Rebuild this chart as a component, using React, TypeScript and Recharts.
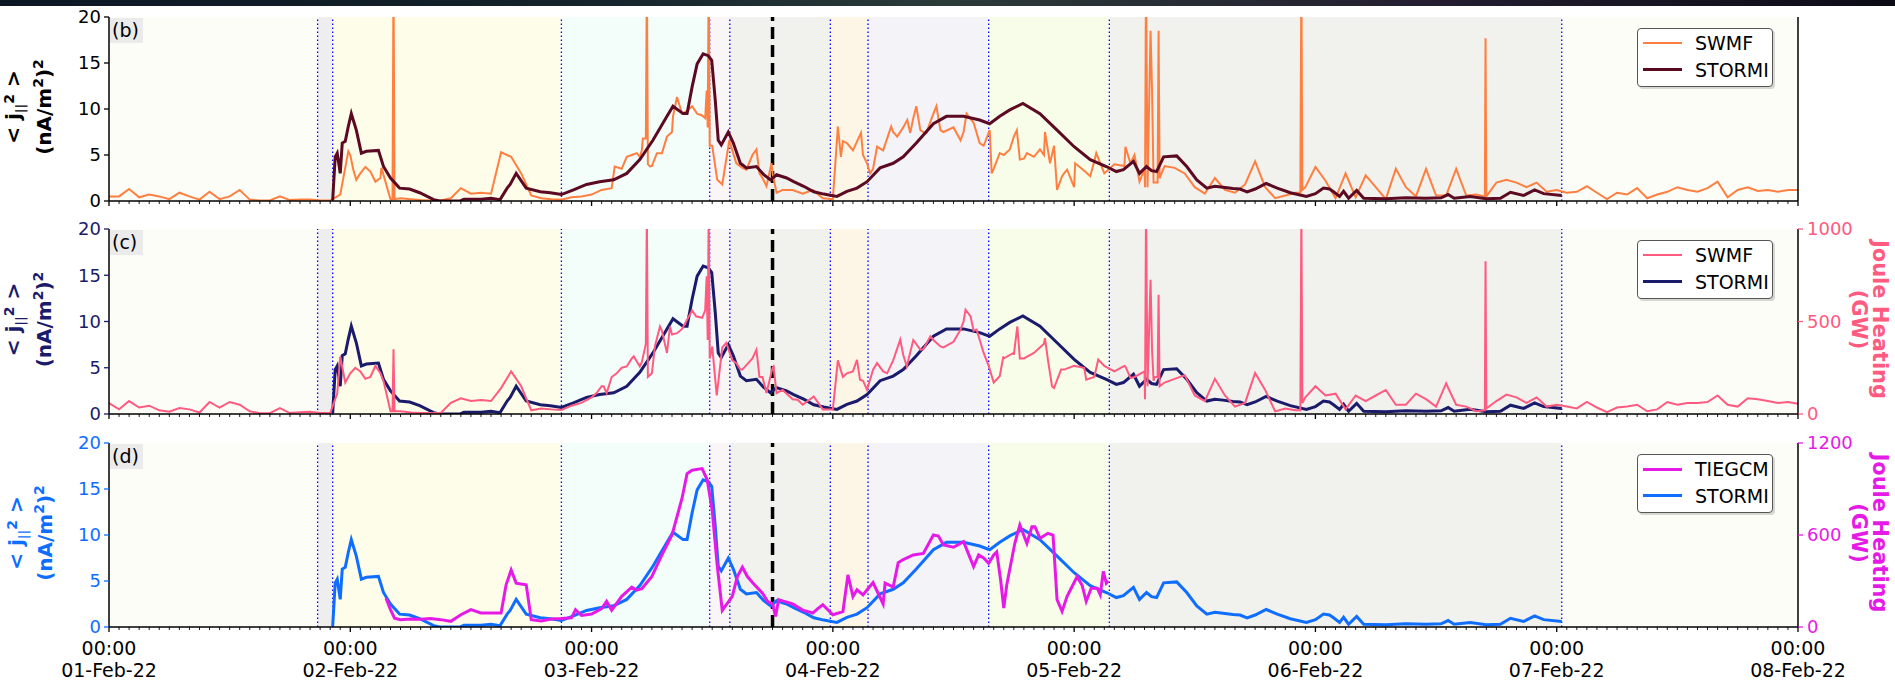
import React from 'react';
import { LineChart, Line, XAxis, YAxis, ReferenceArea, ReferenceLine } from 'recharts';

const W = 1895;
const FONT = '"DejaVu Sans", sans-serif';

// x axis: hours since 01-Feb-22 00:00
const hourTicks = Array.from({ length: 169 }, (_, i) => i);
const dayLabels = ['01-Feb-22', '02-Feb-22', '03-Feb-22', '04-Feb-22', '05-Feb-22', '06-Feb-22', '07-Feb-22', '08-Feb-22'];
const jTicks = [0, 5, 10, 15, 20];

// SWMF <j||^2> (nA/m^2)^2, hourly h0..h168
const swmfJ = [
  0.5, 0.5, 1.3, 0.4, 0.7, 0.5, 0.2, 0.9, 0.5, 0.15, 1.0, 0.2, 0.5, 1.2, 0.15, 0.05, 0.05, 0.5, 0.1, 0.15, 0.15, 0.05, 0.05, 0.7,
  5.0, 3.0, 3.2, 2.5, 0.2, 0.3, 0.2, 0.1, 0.05, 0.05, 0.3, 1.4, 0.8, 0.9, 0.8, 5.3, 4.8, 3.0, 0.6, 0.3, 0.2, 0.15, 0.4, 0.5,
  0.7, 1.2, 1.4, 3.5, 5.0, 5.5, 3.8, 5.2, 7.5, 9.5, 10.3, 9.3, 6.0, 1.8, 5.5, 3.6, 5.0, 2.5, 3.0, 1.2, 1.2, 0.8, 1.2, 0.3,
  0.2, 6.5, 5.5, 5.0, 3.5, 5.5, 7.5, 8.0, 9.0, 7.5, 9.5, 7.5, 8.0, 7.5, 8.5, 6.0, 3.5, 5.0, 7.0, 4.6, 4.8, 5.0, 6.0, 3.0,
  1.5, 3.3, 4.3, 3.0, 4.0, 3.8, 5.0, 3.5, 2.0, 3.8, 3.6, 3.0, 1.5, 0.8, 2.5, 1.2, 0.9, 1.8, 4.3, 1.5, 0.3, 0.6, 0.9, 1.5,
  3.7, 2.2, 0.3, 3.0, 0.4, 2.8, 1.5, 0.2, 3.5, 1.5, 0.5, 3.5, 0.6, 0.6, 3.5, 0.6, 0.7, 0.5, 2.0, 2.3, 2.0, 1.5, 2.0, 1.0,
  1.2, 0.9, 1.0, 1.6, 0.9, 0.2, 0.9, 0.7, 1.4, 0.3, 0.7, 1.0, 1.5, 1.2, 1.0, 1.4, 2.1, 0.4, 1.2, 1.5, 1.1, 1.2, 1.0, 1.2, 1.2,
];
// extra readings between the hourly samples (spikes, wiggles) [hour, value]
const swmfJExtra: [number, number][] = [
  [23.8, 5.4], [24.3, 3.4], [24.6, 2.3], [25.5, 3.7], [26.5, 2.1], [27.1, 3.6],
  [28.2, 0.2], [28.3, 25], [28.4, 0.2],
  [50.3, 3.75], [51.5, 4.8], [52.5, 5.2], [52.8, 4.8], [53.1, 6.8], [53.4, 6.8], [53.5, 25], [53.6, 4], [53.8, 3.75],
  [54.5, 5.2], [55.5, 7.0], [56.1, 9.2], [56.5, 11.3], [57.5, 9.8], [58.5, 9.5],
  [59.3, 9], [59.45, 12], [59.55, 8], [59.65, 25], [59.75, 6],
  [60.5, 2.3], [61.7, 6.6], [62.4, 4.1], [63.4, 3.4], [64.4, 5.6], [64.7, 3.0], [65.4, 1.6], [65.9, 4.1], [66.4, 0.9],
  [72.5, 8.1], [72.8, 4.8], [73.4, 6.3], [74.8, 7.4], [75.4, 4.1], [75.7, 3.0], [76.4, 5.9], [77.8, 8.1], [78.4, 7.0],
  [79.4, 8.8], [79.7, 7.4], [80.3, 10.3], [80.7, 7.7], [81.3, 7.4], [82.3, 10.3], [82.7, 7.7], [84.7, 6.6], [85.3, 9.5],
  [86.6, 6.3], [87.6, 7.7], [87.8, 3.0],
  [88.6, 5.2], [89.6, 5.6], [90.3, 7.7], [90.6, 4.5], [91.3, 5.2], [92.6, 5.6], [93.1, 7.5], [93.6, 4.1], [94.3, 1.2],
  [94.8, 2.7], [95.3, 3.4], [96.1, 4.1], [97.6, 2.7], [98.2, 5.2], [101.1, 5.9], [101.6, 4.1], [102.5, 2.1],
  [103.05, 1.5], [103.15, 25], [103.3, 1.5], [103.6, 18.5], [103.75, 12], [103.9, 2], [104.3, 2], [104.4, 18.5], [104.5, 2.5],
  [118.5, 0.9], [118.6, 25], [118.7, 1.2],
  [136.85, 0.5], [136.92, 17.7],
];

// SWMF Joule heating (GW), hourly h0..h168
const swmfGW = [
  59, 25, 70, 35, 45, 20, 12, 32, 25, 8, 65, 35, 65, 50, 15, 4, 4, 32, 5, 10, 12, 5, 5, 310,
  220, 230, 200, 220, 15, 15, 8, 5, 5, 5, 60, 85, 70, 75, 70, 140, 230, 150, 20, 30, 25, 22, 45, 60,
  90, 150, 200, 250, 300, 280, 220, 450, 430, 460, 560, 520, 365, 360, 290, 240, 300, 200, 250, 130, 80, 50, 90, 25,
  25, 200, 230, 180, 240, 230, 290, 320, 400, 350, 400, 360, 390, 500, 450, 330, 170, 300, 320, 300, 330, 380, 140, 240,
  260, 250, 200, 260, 230, 260, 200, 230, 200, 170, 190, 210, 100, 70, 190, 100, 40, 60, 222, 130, 14, 30, 20, 90,
  150, 100, 110, 25, 100, 70, 100, 130, 50, 50, 110, 80, 40, 165, 50, 40, 15, 30, 70, 105, 90, 60, 90, 40,
  50, 40, 30, 65, 35, 10, 35, 40, 50, 15, 25, 65, 50, 60, 60, 65, 100, 50, 40, 85, 80, 70, 60, 65, 55,
];
const swmfGWExtra: [number, number][] = [
  [22.7, 110], [23.5, 170], [24.5, 250], [25.5, 190], [26.5, 260], [27.3, 180],
  [28.2, 15], [28.3, 350], [28.4, 15],
  [48.5, 113], [49.2, 150], [49.5, 113], [50.5, 220], [51.5, 257], [52.2, 311], [52.8, 257],
  [53.4, 380], [53.5, 1100], [53.6, 200], [54.3, 365], [54.8, 473], [55.5, 330], [55.8, 473], [56.5, 437],
  [57.5, 510], [58.4, 528],
  [59.3, 560], [59.45, 744], [59.55, 400], [59.65, 1100], [59.75, 300],
  [60.45, 100], [61.4, 384], [62.4, 275], [62.8, 240], [64.4, 348], [64.7, 200], [65.4, 113], [66.1, 257], [66.4, 113],
  [68.5, 77], [70.1, 95],
  [72.5, 290], [73.4, 220], [74.4, 293], [74.7, 185], [75.4, 131], [76.4, 275], [77.4, 220], [78.7, 402], [79.35, 257],
  [80.7, 348], [81.7, 420], [82.7, 365], [84.7, 456], [85.2, 564], [85.7, 528], [86.3, 456], [87.5, 260],
  [88.6, 204], [88.96, 311], [89.95, 330], [90.35, 473], [90.6, 300], [93.1, 410], [93.4, 290], [93.8, 150],
  [94.7, 240], [97.2, 186], [98.4, 294], [101.1, 257], [101.6, 195],
  [103.05, 80], [103.15, 1100], [103.3, 150], [103.6, 726], [103.75, 348], [103.9, 180], [104.3, 200], [104.4, 645], [104.5, 150],
  [118.5, 20], [118.6, 1100], [118.7, 60],
  [136.85, 20], [136.92, 825],
];

// STORMI <j||^2> [hour, value]
const stormi: [number, number][] = [
  [22.25, 0.1], [22.5, 4.8], [22.7, 5.2], [23.0, 3.0], [23.2, 6.3], [23.5, 6.5], [23.8, 8.1], [24.1, 9.5], [24.6, 7.7],
  [25.1, 5.2], [25.6, 5.4], [26.8, 5.5], [27.3, 3.75], [28.0, 2.5], [28.9, 1.4], [29.9, 1.3], [30.9, 0.9], [32.3, 0.15],
  [32.9, 0], [34.9, 0], [35.3, 0.2], [37, 0.2], [38, 0.3], [38.9, 0.15], [39.6, 1.4], [39.9, 1.8], [40.5, 3.0], [41.5, 1.4],
  [42.9, 1.0], [43.9, 0.9], [45.0, 0.7], [46.2, 1.2], [47.5, 1.8], [48.8, 2.1], [50.2, 2.3], [51.5, 3.0], [52.8, 4.5],
  [54.1, 6.6], [55.5, 9.2], [56.1, 10.3], [57.1, 9.5], [57.5, 9.5], [58.0, 12.4], [58.5, 14.9], [59.1, 16.0], [59.6, 15.8],
  [59.95, 15.3], [60.3, 11.0], [60.6, 6.6], [60.9, 6.1], [61.6, 7.5], [62.1, 6.3], [62.8, 4.1], [63.4, 3.6], [64.4, 3.75],
  [65.1, 2.9], [65.8, 2.3], [66.4, 2.85], [67.4, 2.5], [68.1, 2.1], [69.1, 1.6], [70.1, 1.0], [71.1, 0.75], [72.4, 0.5],
  [73.4, 1.05], [74.4, 1.4], [75.4, 2.1], [76.7, 3.6], [78.0, 4.1], [79.0, 4.8], [80.3, 6.3], [82.0, 8.4], [83.3, 9.2],
  [85.0, 9.2], [86.6, 8.8], [87.6, 8.4], [88.6, 9.2], [89.6, 9.9], [90.9, 10.6], [92.6, 9.5], [94.3, 7.7], [96.0, 5.9],
  [97.6, 4.5], [99.2, 3.75], [100.2, 3.2], [100.9, 3.4], [101.9, 4.3], [102.5, 3.0], [103.2, 3.75], [103.7, 3.3],
  [104.2, 3.2], [104.9, 4.8], [106.2, 4.9], [107.2, 3.75], [108.2, 2.3], [109.2, 1.4], [110, 1.6], [110.8, 1.5],
  [111.8, 1.35], [112.5, 1.3], [113.2, 1.0], [114, 1.3], [115.1, 1.9], [116.2, 1.4], [117.5, 0.9], [119.1, 0.5],
  [120, 0.8], [120.8, 1.4], [121.4, 1.3], [121.8, 1.0], [122.4, 0.5], [122.8, 1.05], [123.3, 0.3], [124.1, 1.15],
  [124.8, 0.3], [127, 0.25], [129, 0.35], [131, 0.3], [132.5, 0.35], [133.2, 0.7], [133.8, 0.3], [135.4, 0.5],
  [137, 0.25], [138.4, 0.3], [139.4, 0.95], [140.7, 0.6], [141.8, 1.2], [142.7, 0.8], [144.5, 0.6],
];

// TIEGCM Joule heating (GW) [hour, value]
const tiegcm: [number, number][] = [
  [27.55, 188], [28.0, 113], [28.4, 58], [29, 48], [30, 52], [31, 50], [32, 55], [33, 48], [34, 37], [35, 80], [36, 113],
  [37, 91], [38, 91], [39, 91], [39.5, 275], [40, 372], [40.5, 286], [41, 280], [41.5, 275], [42, 48], [43, 40], [44, 52],
  [45, 55], [46, 60], [46.4, 113], [47, 75], [48, 85], [49, 120], [49.5, 167], [50, 110], [51, 200], [52, 260],
  [52.5, 240], [53, 250], [54, 330], [55, 470], [56, 600], [57, 840], [57.5, 1000], [58, 1022], [59, 1033], [59.5, 960],
  [60, 760], [60.5, 400], [61, 108], [62, 200], [62.5, 329], [63, 390], [63.5, 329], [64, 290], [65, 220], [65.5, 167],
  [66, 150], [66.3, 69], [66.6, 178], [67, 170], [68, 150], [69, 110], [70, 91], [70.5, 120], [71, 145], [72, 80],
  [73, 100], [73.5, 340], [74, 199], [74.4, 243], [75, 210], [76, 290], [77, 150], [77.2, 286], [78, 260], [78.5, 420],
  [79, 440], [80, 470], [81, 480], [82, 600], [82.5, 593], [83, 535], [84, 520], [85, 557], [86, 394], [86.5, 470],
  [87, 450], [87.5, 416], [88, 470], [88.3, 490], [88.7, 300], [89, 123], [89.3, 275], [90.1, 546], [90.6, 665],
  [91.3, 546], [91.8, 654], [92.1, 654], [92.6, 578], [93.4, 611], [93.9, 600], [94.3, 178], [94.8, 102], [95.3, 200],
  [95.8, 264], [96.3, 329], [96.8, 270], [97.2, 167], [97.7, 253], [98.3, 253], [98.6, 210], [98.9, 362], [99.2, 286],
  [99.4, 300],
];

// storm phases (hours) and their shading
const phaseEdges = [0, 20.75, 22.25, 45, 59.75, 61.75, 71.75, 75.5, 87.5, 99.5, 144.5, 168];
const phaseColors = ['#fdfdf7', '#eeeeee', '#fdfde9', '#f3fdfa', '#faf5f6', '#f1f1ed', '#fdf5e6', '#f3f3f8', '#f8fde9', '#f1f1ed', '#fdfdf7'];
const onsetHour = 66;

const ORANGE = '#ff7f40';
const MAROON = '#5c0a22';
const PINK = '#ff5a80';
const NAVY = '#1b1b6c';
const MAGENTA = '#e61ae6';
const BLUE = '#0f6eff';

type Pt = { t: number; v: number };
const fromPairs = (pairs: [number, number][]): Pt[] => pairs.map(([t, v]) => ({ t, v }));
const withExtra = (hourly: number[], extra: [number, number][]): Pt[] =>
  [...hourly.map((v, t) => ({ t, v })), ...fromPairs(extra)].sort((a, b) => a.t - b.t);

const swmfJData = withExtra(swmfJ, swmfJExtra);
const swmfGWData = withExtra(swmfGW, swmfGWExtra);
const stormiData = fromPairs(stormi);
const tiegcmData = fromPairs(tiegcm);

const HourTick = (props: any) => {
  const { x, y, payload, labels } = props;
  const major = payload.value % 24 === 0;
  return (
    <g>
      <line x1={x} x2={x} y1={y} y2={y + (major ? 5 : 3)} stroke="#000" strokeWidth={major ? 1.3 : 0.9} />
      {labels && major && (
        <text x={x} y={y + 28} textAnchor="middle" fontSize={19} fontFamily={FONT} fill="#000">
          <tspan x={x}>00:00</tspan>
          <tspan x={x} dy={22}>{dayLabels[payload.value / 24]}</tspan>
        </text>
      )}
    </g>
  );
};

type Series = { data: Pt[]; color: string; width: number; axis: 'left' | 'right'; name: string };
type PanelProps = {
  top: number; plotTop: number; plotH: number; xAxisH: number; tag: string;
  leftColor: string; leftX: [number, number];
  right?: { max: number; ticks: number[]; color: string };
  lines: Series[]; legend: { name: string; color: string; width: number }[];
  xLabels?: boolean;
};

function Panel(p: PanelProps) {
  const height = p.plotTop + p.plotH + p.xAxisH;
  const cy = p.plotTop + p.plotH / 2 - 2;
  const spine = { stroke: '#000', strokeWidth: 1.5 };
  return (
    <div style={{ position: 'absolute', left: 0, top: p.top, width: W, height }}>
      <LineChart width={W} height={height} margin={{ top: p.plotTop, right: 0, bottom: 0, left: 0 }}>
        <XAxis dataKey="t" type="number" domain={[0, 168]} allowDataOverflow ticks={hourTicks} interval={0}
          tickSize={0} tickMargin={0} tickLine={false} height={p.xAxisH} axisLine={spine}
          tick={<HourTick labels={p.xLabels} />} />
        <XAxis xAxisId="top" orientation="top" type="number" domain={[0, 168]} height={0}
          tick={false} tickLine={false} axisLine={spine} />
        <YAxis yAxisId="left" domain={[0, 20]} ticks={jTicks} allowDataOverflow width={109} interval={0}
          tickSize={5} tickMargin={3} axisLine={spine}
          tick={{ fill: p.leftColor, fontSize: 18, fontFamily: FONT }}
          tickLine={{ stroke: p.leftColor, strokeWidth: 1.3 }} />
        <YAxis yAxisId="right" orientation="right" domain={[0, p.right ? p.right.max : 1]}
          ticks={p.right ? p.right.ticks : [0]} allowDataOverflow width={97} interval={0}
          tickSize={p.right ? 5 : 0} tickMargin={4} axisLine={spine}
          tick={p.right ? { fill: p.right.color, fontSize: 18, fontFamily: FONT } : false}
          tickLine={p.right ? { stroke: p.right.color, strokeWidth: 1.3 } : false} />
        {phaseColors.map((c, i) => (
          <ReferenceArea key={'a' + i} yAxisId="left" x1={phaseEdges[i]} x2={phaseEdges[i + 1]}
            fill={c} fillOpacity={1} stroke="none" />
        ))}
        {phaseEdges.slice(1, -1).map((h) => (
          <ReferenceLine key={'l' + h} yAxisId="left" x={h} stroke="#0000ff" strokeWidth={1.3} strokeDasharray="1.5 2.5" />
        ))}
        <ReferenceLine yAxisId="left" x={onsetHour} stroke="#000" strokeWidth={3.5} strokeDasharray="12 6" />
        {p.lines.map((s) => (
          <Line key={s.name} data={s.data} dataKey="v" yAxisId={s.axis} type="linear" stroke={s.color}
            strokeWidth={s.width} dot={false} activeDot={false} isAnimationActive={false} />
        ))}
      </LineChart>
      <svg width={W} height={height} style={{ position: 'absolute', left: 0, top: 0, pointerEvents: 'none' }}
        fontFamily={FONT} fontWeight="bold">
        <text transform={`translate(${p.leftX[0]},${cy}) rotate(-90)`} textAnchor="middle" fontSize={20} fill={p.leftColor}>
          {'< j'}<tspan dy={5} fontSize={13}>||</tspan><tspan dy={-11} fontSize={14}>2</tspan><tspan dy={6}>{' >'}</tspan>
        </text>
        <text transform={`translate(${p.leftX[1]},${cy}) rotate(-90)`} textAnchor="middle" fontSize={20} fill={p.leftColor}>
          (nA/m<tspan dy={-8} fontSize={14}>2</tspan><tspan dy={8}>)</tspan><tspan dy={-8} fontSize={14}>2</tspan>
        </text>
        {p.right && (
          <>
            <text transform={`translate(1873,${cy}) rotate(90)`} textAnchor="middle" fontSize={21} fill={p.right.color}>Joule Heating</text>
            <text transform={`translate(1852,${cy}) rotate(90)`} textAnchor="middle" fontSize={21} fill={p.right.color}>(GW)</text>
          </>
        )}
      </svg>
      <div style={{ position: 'absolute', left: 110, top: p.plotTop + 1, width: 33, height: 25, background: '#ebebeb',
        fontFamily: FONT, fontSize: 19, lineHeight: '25px', paddingLeft: 2, boxSizing: 'border-box', color: '#000' }}>
        {p.tag}
      </div>
      <div style={{ position: 'absolute', left: 1637, top: p.plotTop + 11, width: 136, height: 59, background: '#fff',
        border: '1px solid #555', borderRadius: 4, boxSizing: 'border-box', boxShadow: '2px 2px 0 rgba(0,0,0,0.15)',
        fontFamily: FONT, fontSize: 19, color: '#000' }}>
        {p.legend.map((it, i) => (
          <div key={it.name} style={{ position: 'absolute', left: 5, top: 3 + i * 26.5, height: 22, display: 'flex', alignItems: 'center' }}>
            <div style={{ width: 39, height: it.width, background: it.color }} />
            <span style={{ marginLeft: 13, lineHeight: '22px' }}>{it.name}</span>
          </div>
        ))}
      </div>
    </div>
  );
}

export default function App() {
  return (
    <div style={{ position: 'absolute', left: 0, top: 0, width: W, height: 682, background: '#fff', overflow: 'hidden' }}>
      <div style={{ position: 'absolute', left: 0, top: 0, width: W, height: 6,
        background: 'linear-gradient(90deg, #0b1722 0%, #14222c 30%, #2b3b38 50%, #241e30 75%, #0b0b16 100%)' }} />
      <Panel top={0} plotTop={17} plotH={184} xAxisH={19} tag="(b)" leftColor="#000" leftX={[20, 51]}
        lines={[
          { data: swmfJData, color: ORANGE, width: 2, axis: 'left', name: 'SWMF' },
          { data: stormiData, color: MAROON, width: 3, axis: 'left', name: 'STORMI' },
        ]}
        legend={[{ name: 'SWMF', color: ORANGE, width: 2 }, { name: 'STORMI', color: MAROON, width: 3 }]} />
      <Panel top={212} plotTop={17} plotH={185} xAxisH={19} tag="(c)" leftColor={NAVY} leftX={[20, 51]}
        right={{ max: 1000, ticks: [0, 500, 1000], color: PINK }}
        lines={[
          { data: stormiData, color: NAVY, width: 3, axis: 'left', name: 'STORMI' },
          { data: swmfGWData, color: PINK, width: 2, axis: 'right', name: 'SWMF' },
        ]}
        legend={[{ name: 'SWMF', color: PINK, width: 2 }, { name: 'STORMI', color: NAVY, width: 3 }]} />
      <Panel top={426} plotTop={17} plotH={184} xAxisH={55} tag="(d)" leftColor={BLUE} leftX={[23, 52]}
        right={{ max: 1200, ticks: [0, 600, 1200], color: MAGENTA }} xLabels
        lines={[
          { data: stormiData, color: BLUE, width: 3, axis: 'left', name: 'STORMI' },
          { data: tiegcmData, color: MAGENTA, width: 3, axis: 'right', name: 'TIEGCM' },
        ]}
        legend={[{ name: 'TIEGCM', color: MAGENTA, width: 3 }, { name: 'STORMI', color: BLUE, width: 3 }]} />
    </div>
  );
}
